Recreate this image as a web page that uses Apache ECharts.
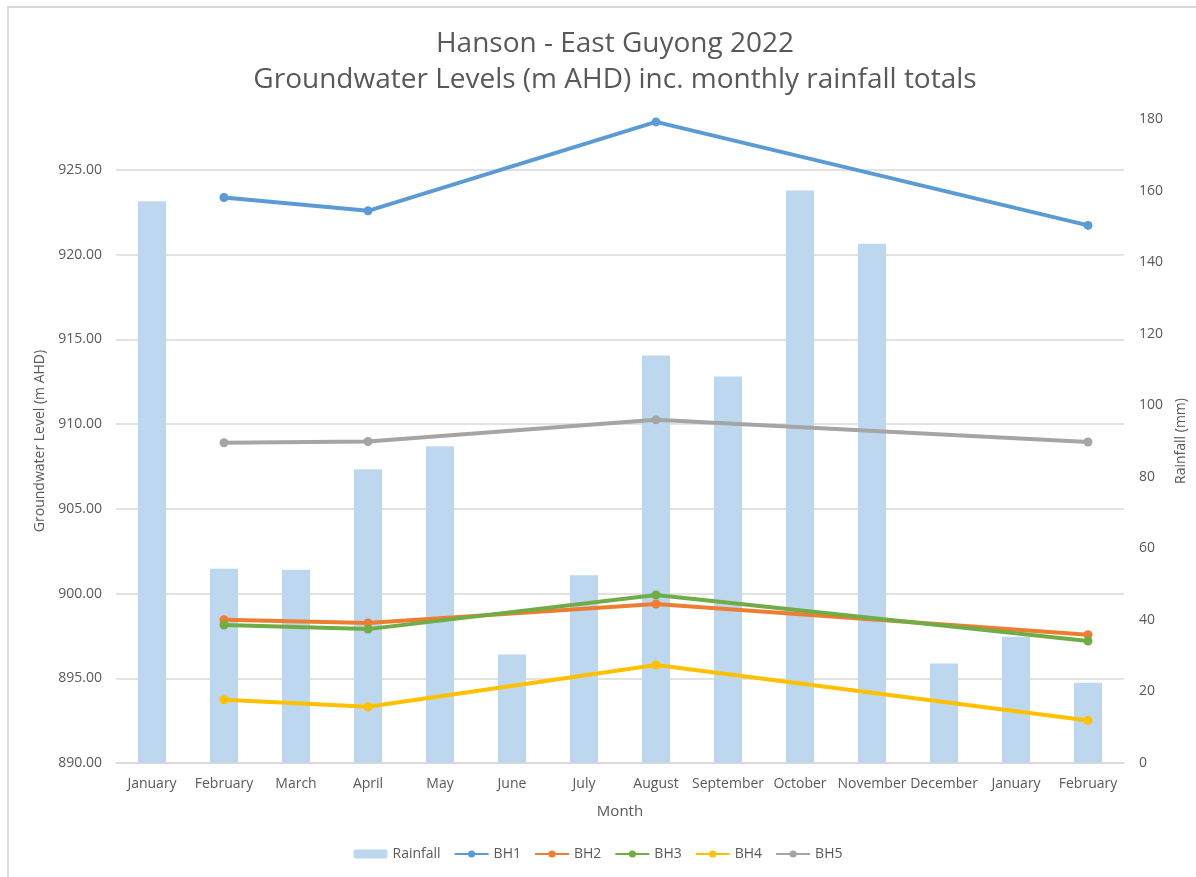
<!DOCTYPE html>
<html>
<head>
<meta charset="utf-8">
<script src="https://cdn.jsdelivr.net/npm/echarts@6/dist/echarts.min.js"></script>
<style>
  html, body { margin: 0; padding: 0; background: #fff; }
  #chart { width: 1196px; height: 877px; }
</style>
</head>
<body>
<div id="chart"></div>
<script>
// month labels along the bottom axis
var months = ['January', 'February', 'March', 'April', 'May', 'June', 'July',
              'August', 'September', 'October', 'November', 'December', 'January', 'February'];

// monthly rainfall totals (mm), right axis
var rainfall = [157, 54.3, 54.0, 82.1, 88.5, 30.3, 52.5, 113.9, 108.0, 160.0, 145.1, 27.8, 35.3, 22.4];

// groundwater levels (m AHD), only measured in Feb, Apr, Aug and the next Feb
var bh1 = [null, 923.37, null, 922.58, null, null, null, 927.83, null, null, null, null, null, 921.72];
var bh2 = [null, 898.45, null, 898.26, null, null, null, 899.38, null, null, null, null, null, 897.57];
var bh3 = [null, 898.14, null, 897.90, null, null, null, 899.91, null, null, null, null, null, 897.20];
var bh4 = [null, 893.73, null, 893.32, null, null, null, 895.78, null, null, null, null, null, 892.51];
var bh5 = [null, 908.90, null, 908.97, null, null, null, 910.25, null, null, null, null, null, 908.94];

var txt = '#595959';
var font = 'Open Sans';

function lineSeries(name, data, color) {
    return {
        name: name,
        type: 'line',
        yAxisIndex: 0,
        data: data,
        connectNulls: true,
        symbol: 'circle',
        symbolSize: 9,
        lineStyle: { width: 4, color: color },
        itemStyle: { color: color },
        z: 3
    };
}

var chart = echarts.init(document.getElementById('chart'));
chart.setOption({
    animation: false,
    textStyle: { fontFamily: font, color: txt },
    title: {
        text: 'Hanson - East Guyong 2022\nGroundwater Levels (m AHD) inc. monthly rainfall totals',
        left: 610,
        top: 21,
        textAlign: 'center',
        textStyle: { fontFamily: font, fontSize: 28, fontWeight: 'normal', color: txt, lineHeight: 36 }
    },
    graphic: [{
        type: 'polyline',
        shape: { points: [[8, 900], [8, 7], [1200, 7]] },
        style: { stroke: '#D9D9D9', lineWidth: 2, fill: null }
    }],
    legend: {
        bottom: 11,
        left: 'center',
        itemGap: 13,
        itemWidth: 34,
        itemHeight: 9,
        textStyle: { fontFamily: font, fontSize: 14, color: txt },
        data: ['Rainfall', 'BH1', 'BH2', 'BH3', 'BH4', 'BH5']
    },
    grid: { left: 116, right: 69, top: 119, bottom: 114 },
    xAxis: {
        type: 'category',
        data: months,
        name: 'Month',
        nameLocation: 'middle',
        nameGap: 41,
        nameTextStyle: { fontSize: 15, color: txt },
        axisLine: { lineStyle: { color: '#D9D9D9', width: 1.5 } },
        axisTick: { show: false },
        axisLabel: { fontSize: 14, color: txt, margin: 14, interval: 0 }
    },
    yAxis: [{
        type: 'value',
        min: 890,
        max: 928,
        interval: 5,
        name: 'Groundwater Level (m AHD)',
        nameLocation: 'middle',
        nameRotate: 90,
        nameGap: 66,
        nameTextStyle: { fontSize: 14, color: txt },
        axisLine: { show: false },
        axisTick: { show: false },
        axisLabel: {
            fontSize: 14, color: txt, margin: 14, showMaxLabel: false,
            formatter: function (v) { return v.toFixed(2); }
        },
        splitLine: { showMaxLine: false, lineStyle: { color: '#D9D9D9', width: 1.5 } }
    }, {
        type: 'value',
        min: 0,
        max: 180,
        interval: 20,
        name: 'Rainfall (mm)',
        nameLocation: 'middle',
        nameRotate: 90,
        nameGap: 50,
        nameTextStyle: { fontSize: 14, color: txt },
        axisLine: { show: false },
        axisTick: { show: false },
        axisLabel: { fontSize: 14, color: txt, margin: 15 },
        splitLine: { show: false }
    }],
    series: [{
        name: 'Rainfall',
        type: 'bar',
        yAxisIndex: 1,
        data: rainfall,
        barWidth: '39%',
        itemStyle: { color: '#BDD7EE' },
        z: 2
    },
        lineSeries('BH1', bh1, '#5B9BD5'),
        lineSeries('BH2', bh2, '#ED7D31'),
        lineSeries('BH3', bh3, '#70AD47'),
        lineSeries('BH4', bh4, '#FFC000'),
        lineSeries('BH5', bh5, '#A5A5A5')
    ]
});
</script>
</body>
</html>
